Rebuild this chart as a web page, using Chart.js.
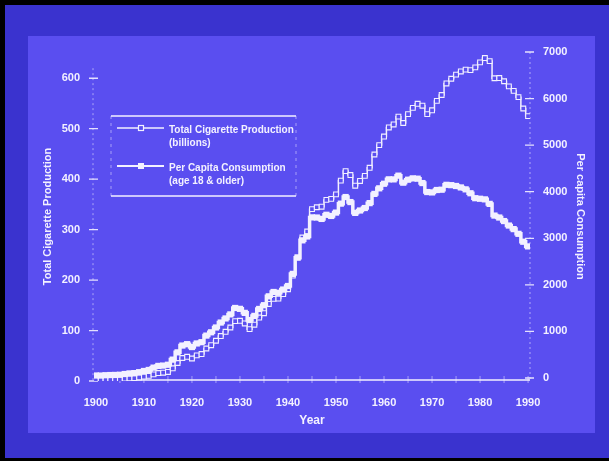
<!DOCTYPE html>
<html lang="en">
<head>
  <meta charset="UTF-8">
  <title>Cigarette Production and Per Capita Consumption</title>
  <script src="https://cdn.jsdelivr.net/npm/chart.js"></script>
  <style>
    body {
      margin: 0;
      background: #000;
      width: 609px;
      height: 461px;
      overflow: hidden;
      position: relative;
      font-family: "Liberation Sans", Arial, sans-serif;
    }
    #outer {
      position: absolute;
      left: 5px; top: 5px;
      width: 604px; height: 453px;
      background: #3a33cf;
    }
    #inner {
      position: absolute;
      left: 28px; top: 36px;
      width: 567px; height: 397px;
      background: #5a4ef0;
    }
    canvas {
      position: absolute;
      left: 0; top: 0;
    }
  </style>
</head>
<body>

<div id="outer"></div>
<div id="inner"></div>
<canvas id="chart" width="609" height="461"></canvas>

<script>
  // years 1900 - 1990
  const years = [
    1900, 1901, 1902, 1903, 1904, 1905, 1906, 1907, 1908, 1909,
    1910, 1911, 1912, 1913, 1914, 1915, 1916, 1917, 1918, 1919,
    1920, 1921, 1922, 1923, 1924, 1925, 1926, 1927, 1928, 1929,
    1930, 1931, 1932, 1933, 1934, 1935, 1936, 1937, 1938, 1939,
    1940, 1941, 1942, 1943, 1944, 1945, 1946, 1947, 1948, 1949,
    1950, 1951, 1952, 1953, 1954, 1955, 1956, 1957, 1958, 1959,
    1960, 1961, 1962, 1963, 1964, 1965, 1966, 1967, 1968, 1969,
    1970, 1971, 1972, 1973, 1974, 1975, 1976, 1977, 1978, 1979,
    1980, 1981, 1982, 1983, 1984, 1985, 1986, 1987, 1988, 1989,
    1990
  ];

  // total cigarettes (billions), left axis
  const production = [
    2.5, 2.5, 2.8, 3.1, 3.3, 3.6, 4.5, 5.3, 5.7, 7.0,
    8.6, 10.1, 13.2, 15.8, 16.5, 17.9, 25.2, 35.7, 45.6, 48.0,
    44.6, 50.7, 53.4, 64.4, 71.0, 79.8, 89.1, 97.5, 106.0, 118.6,
    119.3, 114.0, 102.8, 111.6, 125.7, 134.4, 152.7, 162.8, 163.4, 172.1,
    181.9, 208.9, 245.0, 284.3, 296.3, 340.6, 344.3, 345.4, 358.9, 360.9,
    369.8, 397.1, 416.0, 408.2, 387.0, 396.4, 406.5, 422.5, 448.9, 467.5,
    484.4, 502.5, 508.4, 523.9, 511.3, 528.8, 541.3, 549.3, 545.6, 528.9,
    536.5, 555.1, 566.8, 589.7, 599.0, 607.2, 613.5, 617.0, 616.0, 621.5,
    631.5, 640.0, 634.0, 600.0, 600.4, 594.0, 583.8, 575.0, 562.5, 540.0,
    525.0
  ];

  // per capita consumption (age 18 & older), right axis
  const perCapita = [
    54, 53, 60, 64, 66, 70, 86, 99, 105, 125,
    151, 173, 223, 260, 267, 285, 395, 551, 697, 727,
    665, 742, 770, 911, 982, 1085, 1191, 1279, 1366, 1504,
    1485, 1399, 1245, 1334, 1483, 1564, 1754, 1847, 1830, 1900,
    1976, 2236, 2585, 2956, 3039, 3449, 3446, 3416, 3505, 3480,
    3552, 3744, 3886, 3778, 3546, 3597, 3650, 3755, 3953, 4073,
    4171, 4266, 4265, 4345, 4194, 4258, 4287, 4280, 4186, 3993,
    3985, 4037, 4043, 4148, 4141, 4123, 4092, 4051, 3967, 3861,
    3849, 3836, 3739, 3488, 3446, 3370, 3274, 3197, 3096, 2926,
    2826
  ];

  const xTicks = [1900, 1910, 1920, 1930, 1940, 1950, 1960, 1970, 1980, 1990];
  const leftTicks = [0, 100, 200, 300, 400, 500, 600];
  const rightTicks = [0, 1000, 2000, 3000, 4000, 5000, 6000, 7000];

  const legendLines = [
    ["Total Cigarette Production", "(billions)"],
    ["Per Capita Consumption", "(age 18 & older)"]
  ];

  const WHITE = "#f3f1ff";
  const BG = "#5a4ef0";
  const font = { family: "'Liberation Sans', Arial, sans-serif", weight: "bold", size: 11 };

  // tick marks, axis lines and the boxed legend
  const decorations = {
    id: "decorations",
    beforeDatasetsDraw(chart) {
      const { ctx, chartArea: a } = chart;
      const x = chart.scales.x, yl = chart.scales.yl, yr = chart.scales.yr;
      ctx.save();
      ctx.strokeStyle = WHITE;

      // x axis line
      ctx.lineWidth = 1.5;
      ctx.beginPath();
      ctx.moveTo(a.left, a.bottom - 1);
      ctx.lineTo(a.right, a.bottom - 1);
      ctx.stroke();

      // dotted side axes
      ctx.globalAlpha = 0.55;
      ctx.lineWidth = 1;
      ctx.setLineDash([2, 3]);
      ctx.beginPath();
      ctx.moveTo(a.left - 1, yl.getPixelForValue(620));
      ctx.lineTo(a.left - 1, a.bottom);
      ctx.moveTo(a.right, a.top);
      ctx.lineTo(a.right, a.bottom);
      ctx.stroke();
      ctx.setLineDash([]);

      // tick marks
      ctx.globalAlpha = 0.9;
      ctx.lineWidth = 1.3;
      ctx.beginPath();
      leftTicks.forEach(v => {
        const p = yl.getPixelForValue(v);
        ctx.moveTo(a.left - 5, p);
        ctx.lineTo(a.left + 4, p);
      });
      rightTicks.forEach(v => {
        const p = yr.getPixelForValue(v);
        ctx.moveTo(a.right - 5, p);
        ctx.lineTo(a.right + 4, p);
      });
      ctx.stroke();
      ctx.globalAlpha = 0.5;
      ctx.lineWidth = 1;
      ctx.beginPath();
      for (let yr5 = 1905; yr5 <= 1990; yr5 += 5) {
        const p = x.getPixelForValue(yr5);
        ctx.moveTo(p, a.bottom - 5);
        ctx.lineTo(p, a.bottom + 2);
      }
      ctx.stroke();
      ctx.restore();
    },
    afterDraw(chart) {
      const { ctx } = chart;
      const L = 111, R = 296, T = 116, B = 196;
      ctx.save();
      ctx.strokeStyle = WHITE;
      ctx.lineWidth = 1.5;
      ctx.beginPath();
      ctx.moveTo(L, T); ctx.lineTo(R, T);
      ctx.moveTo(L, B); ctx.lineTo(R, B);
      ctx.stroke();
      ctx.globalAlpha = 0.5;
      ctx.lineWidth = 1;
      ctx.setLineDash([3, 4]);
      ctx.beginPath();
      ctx.moveTo(L, T); ctx.lineTo(L, B);
      ctx.moveTo(R, T); ctx.lineTo(R, B);
      ctx.stroke();
      ctx.setLineDash([]);
      ctx.globalAlpha = 1;

      const rows = [128, 166];
      chart.data.datasets.forEach((ds, i) => {
        const y = rows[i];
        ctx.strokeStyle = WHITE;
        ctx.lineWidth = i === 0 ? 1.5 : 2;
        ctx.beginPath();
        ctx.moveTo(117, y); ctx.lineTo(164, y);
        ctx.stroke();
        const s = i === 0 ? 5 : 6;
        ctx.fillStyle = ds.pointBackgroundColor;
        ctx.fillRect(141 - s / 2, y - s / 2, s, s);
        if (i === 0) {
          ctx.lineWidth = 1.2;
          ctx.strokeRect(141 - s / 2, y - s / 2, s, s);
        }
        ctx.fillStyle = WHITE;
        ctx.font = "bold 10px 'Liberation Sans', Arial, sans-serif";
        ctx.textBaseline = "middle";
        ctx.fillText(legendLines[i][0], 169, y + 2);
        ctx.fillText(legendLines[i][1], 169, y + 15);
      });
      ctx.restore();
    }
  };

  const ctx = document.getElementById("chart").getContext("2d");
  new Chart(ctx, {
    type: "line",
    data: {
      datasets: [
        {
          label: "Total Cigarette Production (billions)",
          data: years.map((yr, i) => ({ x: yr, y: production[i] })),
          yAxisID: "yl",
          stepped: "middle",
          borderColor: WHITE,
          borderWidth: 1.5,
          pointStyle: "rect",
          pointRadius: 3.4,
          pointBackgroundColor: BG,
          pointBorderColor: WHITE,
          pointBorderWidth: 1.1,
          order: 2
        },
        {
          label: "Per Capita Consumption (age 18 & older)",
          data: years.map((yr, i) => ({ x: yr, y: perCapita[i] })),
          yAxisID: "yr",
          stepped: "middle",
          borderColor: WHITE,
          borderWidth: 3.5,
          pointStyle: "rect",
          pointRadius: 4.4,
          pointBackgroundColor: WHITE,
          pointBorderColor: WHITE,
          pointBorderWidth: 0,
          order: 1
        }
      ]
    },
    options: {
      responsive: false,
      animation: false,
      layout: { padding: { top: 52, left: 0, right: 0, bottom: 0 } },
      plugins: { legend: { display: false }, tooltip: { enabled: false } },
      scales: {
        x: {
          type: "linear",
          min: 1899.6,
          max: 1990.4,
          grid: { display: false, drawTicks: false },
          border: { display: false },
          afterBuildTicks: s => { s.ticks = xTicks.map(v => ({ value: v })); },
          afterFit: s => { s.height = 80; },
          ticks: { color: WHITE, font, padding: 15, maxRotation: 0, autoSkip: false, callback: v => String(v) },
          title: { display: true, text: "Year", color: WHITE, font: { ...font, size: 12 }, padding: { top: 0, bottom: 33 } }
        },
        yl: {
          type: "linear",
          position: "left",
          min: 0,
          max: 652,
          grid: { display: false, drawTicks: false },
          border: { display: false },
          afterBuildTicks: s => { s.ticks = leftTicks.map(v => ({ value: v })); },
          afterFit: s => { s.width = 94; },
          ticks: { color: WHITE, font, padding: 14, callback: v => String(v) },
          title: { display: true, text: "Total Cigarette Production", color: WHITE, font, padding: { top: 41, bottom: 0 } }
        },
        yr: {
          type: "linear",
          position: "right",
          min: -64,
          max: 7000,
          grid: { display: false, drawTicks: false },
          border: { display: false },
          afterBuildTicks: s => { s.ticks = rightTicks.map(v => ({ value: v })); },
          afterFit: s => { s.width = 79; },
          ticks: { color: WHITE, font, padding: 13, callback: v => String(v) },
          title: { display: true, text: "Per capita Consumption", color: WHITE, font, padding: { top: 22, bottom: 0 } }
        }
      }
    },
    plugins: [decorations]
  });
</script>

</body>
</html>
